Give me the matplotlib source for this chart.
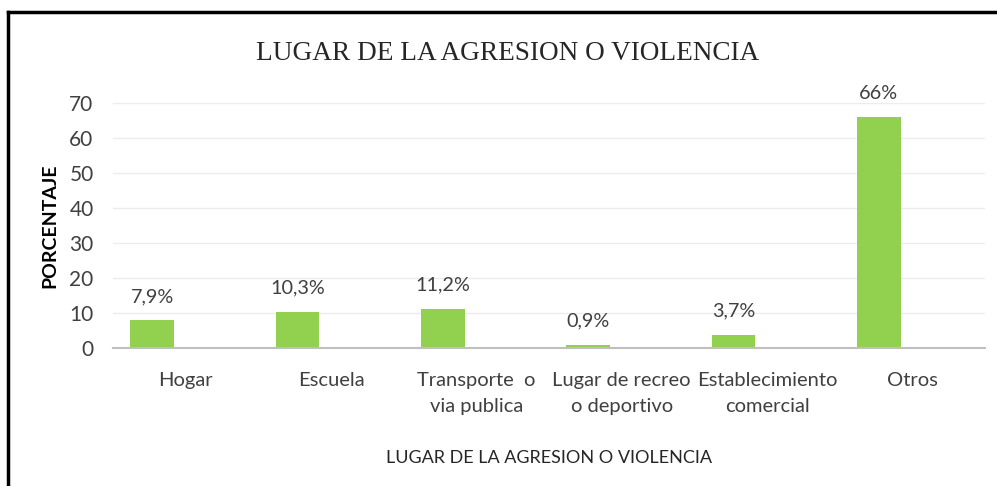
import matplotlib.pyplot as plt
from matplotlib.lines import Line2D

# data
categorias = ["Hogar", "Escuela", "Transporte  o\nvia publica", "Lugar de recreo\no deportivo",
              "Establecimiento\ncomercial", "Otros"]
valores = [7.9, 10.3, 11.2, 0.9, 3.7, 66]
etiquetas = ["7,9%", "10,3%", "11,2%", "0,9%", "3,7%", "66%"]
yticks = [0, 10, 20, 30, 40, 50, 60, 70]

plt.rcParams['font.family'] = ['Lato', 'DejaVu Sans']

fig = plt.figure(figsize=(9.97, 4.86), dpi=100)
ax = fig.add_axes([113 / 997, 1 - 348 / 486, 872 / 997, 245 / 486])

x = list(range(len(categorias)))
xb = [i - 0.23 for i in x]
ax.bar(xb, valores, width=0.30, color="#92D050", zorder=3)

for xi, v, t in zip(xb, valores, etiquetas):
    ax.annotate(t, (xi, v), xytext=(0, 11), textcoords="offset points",
                ha="center", va="bottom", fontsize=14.3, color="#404040")

ax.set_xlim(-0.5, len(categorias) - 0.5)
ax.set_ylim(0, 70)
ax.set_yticks(yticks)
ax.set_xticks(x)
ax.set_xticklabels(categorias, fontsize=14.5, color="#404040", linespacing=1.7)
ax.tick_params(axis="both", length=0, labelcolor="#404040")
ax.tick_params(axis="y", labelsize=15, pad=14)
ax.tick_params(axis="x", pad=17)
ax.grid(axis="y", color="#ececec", linewidth=1, zorder=0)
for s in ["top", "right", "left"]:
    ax.spines[s].set_visible(False)
ax.spines["bottom"].set_color("#bfbfbf")
ax.spines["bottom"].set_linewidth(1.5)
ax.spines["bottom"].set_zorder(4)

ax.set_ylabel("PORCENTAJE", fontsize=14, fontweight="bold", color="black", labelpad=8)
ax.set_xlabel("LUGAR DE LA AGRESION O VIOLENCIA", fontsize=13, color="#262626", labelpad=25)

fig.text(508 / 997, 1 - 53 / 486, "LUGAR DE LA AGRESION O VIOLENCIA", ha="center", va="center",
         fontsize=19.6, family="Liberation Serif", color="#262626")

# outer frame (left and top only)
fig.add_artist(Line2D([8 / 997, 8 / 997], [0, 1 - 12 / 486], color="black", linewidth=2.5,
                      transform=fig.transFigure))
fig.add_artist(Line2D([8 / 997, 1], [1 - 12 / 486, 1 - 12 / 486], color="black", linewidth=2.5,
                      transform=fig.transFigure))

fig.savefig("out.png", dpi=100)
